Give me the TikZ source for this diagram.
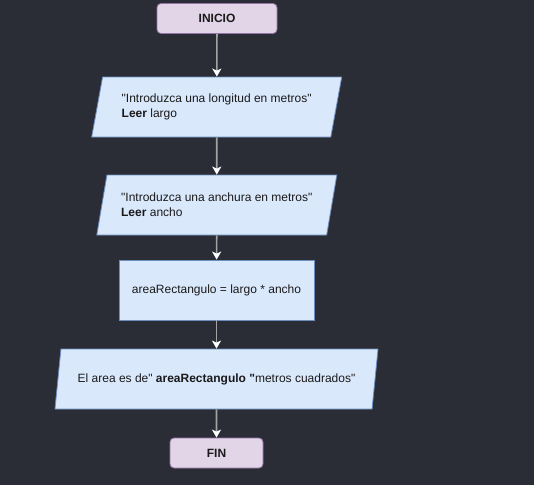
\documentclass[tikz,border=0pt]{standalone}
\usepackage{fontspec}
\setmainfont{Liberation Sans}
\usetikzlibrary{shapes.geometric,arrows.meta}
\definecolor{fondo}{HTML}{2A2D36}
\definecolor{lila}{HTML}{9673A6}
\definecolor{lilaclaro}{HTML}{E1D5E7}
\definecolor{azul}{HTML}{6C8EBF}
\definecolor{azulclaro}{HTML}{DAE8FC}
\definecolor{flecha}{HTML}{A3A3A3}
\definecolor{texto}{HTML}{1A1A1A}
\newcommand{\comilla}{\textquotedbl}
\begin{document}
\begin{tikzpicture}[x=1pt,y=-1pt,
    every node/.style={font=\fontsize{12}{15}\selectfont,text=texto},
    terminal/.style={draw=lila,fill=lilaclaro,rounded corners=4pt,line width=0.8pt,
      minimum height=30pt,font=\fontsize{12}{15}\selectfont\bfseries},
    datos/.style={trapezium,trapezium left angle=71.6,trapezium right angle=108.4,
      trapezium stretches body,draw=azul,fill=azulclaro,line width=0.8pt,
      minimum height=60pt,align=left},
    proceso/.style={draw=azul,fill=azulclaro,line width=0.8pt,
      minimum width=195pt,minimum height=60pt},
    flujo/.style={draw=flecha,line width=1.6pt,
      -{Stealth[length=8pt,width=9pt,inset=2pt,color=white]}}]
  \fill[fondo] (0,0) rectangle (534,485);
  \useasboundingbox (0,0) rectangle (534,485);
  \node[terminal,minimum width=120pt] (inicio) at (217,18.5) {INICIO};
  \node[datos,minimum width=250pt] (longitud) at (216.7,107)
    {\comilla Introduzca una longitud en metros\comilla\\\textbf{Leer} largo};
  \node[datos,minimum width=240pt] (anchura) at (216.8,205)
    {\comilla Introduzca una anchura en metros\comilla\\\textbf{Leer} ancho};
  \node[proceso] (area) at (216.5,290) {areaRectangulo = largo * ancho};
  \node[datos,minimum width=323pt] (salida) at (216.5,379)
    {El area es de\comilla{} \textbf{areaRectangulo \comilla}metros cuadrados\comilla};
  \node[terminal,minimum width=93pt] (fin) at (216.5,453) {FIN};
  \begin{scope}[flujo]
    \draw (inicio) to (longitud);
    \draw (longitud) to (anchura);
    \draw (anchura) to (area);
    \draw (area) to (salida);
    \draw (salida) to (fin);
  \end{scope}
\end{tikzpicture}
\end{document}
